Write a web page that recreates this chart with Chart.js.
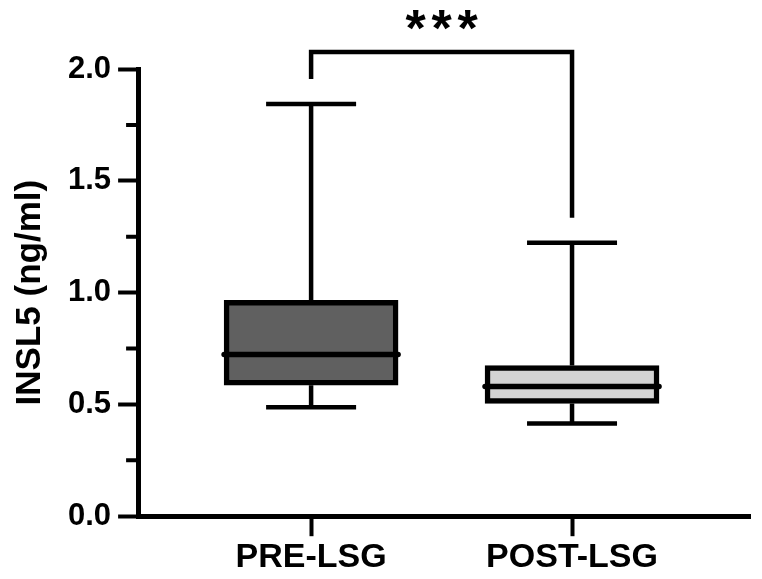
<!DOCTYPE html>
<html>
<head>
<meta charset="utf-8">
<script src="https://cdn.jsdelivr.net/npm/chart.js@4"></script>
<style>
    html, body { margin: 0; padding: 0; background: #fff; }
    #wrap { width: 762px; height: 579px; }
</style>
</head>
<body>
<div id="wrap"><canvas id="boxChart"></canvas></div>
<script>
// Box plot values (ng/ml)
const categories = ['PRE-LSG', 'POST-LSG'];
const whiskerMin = [0.487, 0.415];
const q1 = [0.586, 0.504];
const median = [0.723, 0.580];
const q3 = [0.965, 0.674];
const whiskerMax = [1.844, 1.223];
const boxColors = ['#606060', '#d3d3d3'];

// Significance bracket
const sigLabel = '***';
const bracketTop = 2.076;
const bracketLegEnd = [1.955, 1.335];

const FONT = '"Liberation Sans", Arial, Helvetica, sans-serif';

function isMajor(v) {
    return Math.abs(v * 2 - Math.round(v * 2)) < 1e-6;
}

// whiskers, medians, minor ticks and the bracket, placed through the scales
const boxExtras = {
    id: 'boxExtras',
    afterDatasetsDraw(chart) {
        const ctx = chart.ctx;
        const x = chart.scales.x;
        const y = chart.scales.y;
        ctx.save();
        ctx.strokeStyle = '#000';
        ctx.lineCap = 'butt';

        categories.forEach((c, i) => {
            const cx = x.getPixelForValue(i);
            ctx.lineWidth = 4.5;
            ctx.beginPath();
            ctx.moveTo(cx, y.getPixelForValue(q3[i]));
            ctx.lineTo(cx, y.getPixelForValue(whiskerMax[i]));
            ctx.moveTo(cx, y.getPixelForValue(q1[i]));
            ctx.lineTo(cx, y.getPixelForValue(whiskerMin[i]));
            // caps
            ctx.moveTo(cx - 45, y.getPixelForValue(whiskerMax[i]));
            ctx.lineTo(cx + 45, y.getPixelForValue(whiskerMax[i]));
            ctx.moveTo(cx - 45, y.getPixelForValue(whiskerMin[i]));
            ctx.lineTo(cx + 45, y.getPixelForValue(whiskerMin[i]));
            ctx.stroke();

            ctx.lineWidth = 5.5;
            ctx.lineCap = 'round';
            ctx.beginPath();
            ctx.moveTo(cx - 87, y.getPixelForValue(median[i]));
            ctx.lineTo(cx + 87, y.getPixelForValue(median[i]));
            ctx.stroke();
            ctx.lineCap = 'butt';
        });

        // minor ticks on the y axis
        ctx.lineWidth = 4;
        ctx.beginPath();
        y.ticks.forEach(t => {
            if (!isMajor(t.value)) {
                const py = y.getPixelForValue(t.value);
                ctx.moveTo(chart.chartArea.left - 12, py);
                ctx.lineTo(chart.chartArea.left, py);
            }
        });
        ctx.stroke();

        // significance bracket
        const x0 = x.getPixelForValue(0);
        const x1 = x.getPixelForValue(1);
        const yt = y.getPixelForValue(bracketTop);
        ctx.lineWidth = 4.5;
        ctx.lineJoin = 'miter';
        ctx.beginPath();
        ctx.moveTo(x0, y.getPixelForValue(bracketLegEnd[0]));
        ctx.lineTo(x0, yt);
        ctx.lineTo(x1, yt);
        ctx.lineTo(x1, y.getPixelForValue(bracketLegEnd[1]));
        ctx.stroke();

        ctx.fillStyle = '#000';
        ctx.font = 'bold 52px ' + FONT;
        ctx.textAlign = 'center';
        ctx.textBaseline = 'alphabetic';
        const mid = (x0 + x1) / 2;
        const chars = sigLabel.split('');
        chars.forEach((ch, k) => {
            ctx.fillText(ch, mid + (k - (chars.length - 1) / 2) * 26, yt - 6);
        });
        ctx.restore();
    }
};

new Chart(document.getElementById('boxChart'), {
    type: 'bar',
    data: {
        datasets: [{
            data: categories.map((c, i) => ({ x: i, y: [q1[i], q3[i]] })),
            backgroundColor: boxColors,
            borderColor: '#000',
            borderWidth: 5.5,
            borderSkipped: false,
            barThickness: 174
        }]
    },
    options: {
        responsive: true,
        maintainAspectRatio: false,
        animation: false,
        layout: { padding: { top: 69, right: 12, left: 0, bottom: 0 } },
        plugins: {
            legend: { display: false },
            tooltip: { enabled: false }
        },
        scales: {
            x: {
                type: 'linear',
                offset: false,
                min: -0.663,
                max: 1.682,
                afterBuildTicks: scale => {
                    scale.ticks = categories.map((c, i) => ({ value: i }));
                },
                ticks: {
                    color: '#000',
                    font: { family: FONT, size: 34, weight: 'bold' },
                    padding: 1,
                    maxRotation: 0,
                    autoSkip: false,
                    callback: v => categories[v]
                },
                grid: {
                    offset: false,
                    drawOnChartArea: false,
                    tickLength: 20,
                    tickWidth: 4,
                    tickColor: '#000'
                },
                border: { color: '#000', width: 5 }
            },
            y: {
                min: 0,
                max: 2,
                ticks: {
                    stepSize: 0.25,
                    color: '#000',
                    font: { family: FONT, size: 31, weight: 'bold' },
                    padding: 7,
                    callback: v => (isMajor(v) ? v.toFixed(1) : '')
                },
                grid: {
                    drawOnChartArea: false,
                    tickLength: 20,
                    tickWidth: 4,
                    tickColor: c => (isMajor(c.tick.value) ? '#000' : 'rgba(0,0,0,0)')
                },
                border: { color: '#000', width: 5 },
                title: {
                    display: true,
                    text: 'INSL5 (ng/ml)',
                    color: '#000',
                    font: { family: FONT, size: 35, weight: 'bold' },
                    padding: { top: 9, bottom: 10 }
                }
            }
        }
    },
    plugins: [boxExtras]
});
</script>
</body>
</html>
